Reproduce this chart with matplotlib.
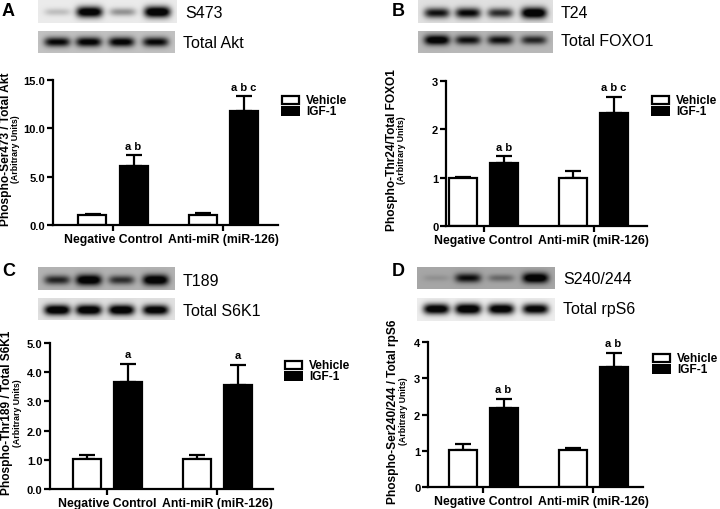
import numpy as np
import matplotlib
matplotlib.use('Agg')
import matplotlib.pyplot as plt
from matplotlib.patches import Rectangle

plt.rcParams['font.family'] = ['Liberation Sans', 'DejaVu Sans']

# --- data ---
groups = ['Negative Control', 'Anti-miR (miR-126)']
legend_labels = ['Vehicle', 'IGF-1']

akt_vehicle = [1.0, 1.05]
akt_vehicle_err = [0.12, 0.2]
akt_igf = [6.1, 11.8]
akt_igf_err = [1.1, 1.5]
akt_marks = ['a b', 'a b c']
akt_yticks = [0.0, 5.0, 10.0, 15.0]

foxo_vehicle = [1.0, 1.0]
foxo_vehicle_err = [0.02, 0.14]
foxo_igf = [1.31, 2.33]
foxo_igf_err = [0.13, 0.34]
foxo_marks = ['a b', 'a b c']
foxo_yticks = [0, 1, 2, 3]

s6k_vehicle = [1.03, 1.02]
s6k_vehicle_err = [0.15, 0.13]
s6k_igf = [3.67, 3.55]
s6k_igf_err = [0.62, 0.7]
s6k_marks = ['a', 'a']
s6k_yticks = [0.0, 1.0, 2.0, 3.0, 4.0, 5.0]

rps6_vehicle = [1.02, 1.01]
rps6_vehicle_err = [0.17, 0.06]
rps6_igf = [2.17, 3.32]
rps6_igf_err = [0.27, 0.37]
rps6_marks = ['a b', 'a b']
rps6_yticks = [0, 1, 2, 3, 4]

# blot band darkness per lane (0 = no band, 1 = saturated)
s473_bands = [0.15, 0.95, 0.3, 1.0]
akt_bands = [0.8, 0.85, 0.85, 0.8]
t24_bands = [0.75, 0.8, 0.65, 1.0]
foxo1_bands = [0.95, 0.75, 0.75, 0.65]
t189_bands = [0.65, 1.0, 0.6, 1.0]
s6k1_bands = [1.0, 1.0, 1.0, 0.95]
s240_bands = [0.1, 0.75, 0.3, 1.0]
rps6_bands = [0.95, 1.0, 0.95, 0.9]

W, H = 720, 510
fig = plt.figure(figsize=(W / 100, H / 100), dpi=100)


def px_axes(x0, y0, x1, y1):
    return fig.add_axes([x0 / W, 1 - y1 / H, (x1 - x0) / W, (y1 - y0) / H])


def fx(x):
    return x / W


def fy(y):
    return 1 - y / H


def blot(x0, y0, x1, y1, bg, bands, band_y, label):
    ax = px_axes(x0, y0, x1, y1)
    nx, ny = int(x1 - x0) * 2, int(y1 - y0) * 2
    xx, yy = np.meshgrid(np.linspace(0, 1, nx), np.linspace(0, 1, ny))
    cy = (band_y - y0) / (y1 - y0)
    dark = np.zeros_like(xx)
    for xc, b in zip([0.14, 0.37, 0.61, 0.86], bands):
        hh = 0.14 + 0.1 * b
        dark += 1.3 * b * np.exp(-((xx - xc) / 0.095) ** 4) * np.exp(-((yy - cy) / hh) ** 2)
    img = bg * (1 - 0.97 * np.clip(dark, 0, 1))
    ax.imshow(img, cmap='gray', vmin=0, vmax=1, aspect='auto', interpolation='bilinear')
    ax.axis('off')
    fig.text(fx(x1 + 8), fy(band_y), label, fontsize=11.5, ha='left', va='center')


def legend(x, y):
    fig.patches.append(Rectangle((fx(x), fy(y + 8)), 17 / W, 8 / H, transform=fig.transFigure,
                                 facecolor='white', edgecolor='black', linewidth=1.6))
    fig.patches.append(Rectangle((fx(x - 0.8), fy(y + 19.8)), 18.6 / W, 9.6 / H, transform=fig.transFigure,
                                 facecolor='black', edgecolor='none'))
    fig.text(fx(x + 24), fy(y + 4), legend_labels[0], fontsize=8.6, weight='bold', ha='left', va='center')
    fig.text(fx(x + 24), fy(y + 15), legend_labels[1], fontsize=8.6, weight='bold', ha='left', va='center')


def bar_panel(left, top, right, bottom, g1, veh, veh_err, igf, igf_err, marks, yticks, fmt,
              ylab, ylab_x, letter, letter_xy):
    ax = px_axes(left, top, right, bottom)
    x = np.array([1.0, 2.0])
    w = 28 / 110
    off = 20.5 / 110
    ax.errorbar(x - off, veh, yerr=[np.zeros(2), veh_err], fmt='none', ecolor='black',
                elinewidth=1.6, capsize=5.8, capthick=1.6, zorder=1)
    ax.errorbar(x + off, igf, yerr=[np.zeros(2), igf_err], fmt='none', ecolor='black',
                elinewidth=1.6, capsize=5.8, capthick=1.6, zorder=1)
    ax.bar(x - off, veh, width=w, color='white', edgecolor='black', linewidth=1.6, zorder=2)
    ax.bar(x + off, igf, width=w, color='black', edgecolor='black', linewidth=1.6, zorder=2)
    for xi, v, e, m in zip(x + off, igf, igf_err, marks):
        ax.annotate(m, (xi, v + e), xytext=(0, 3.5), textcoords='offset points', ha='center',
                    va='bottom', fontsize=8, weight='bold', annotation_clip=False)
    ax.set_xlim(1 + (left - g1) / 110, 1 + (right - g1) / 110)
    ax.set_ylim(yticks[0], yticks[-1])
    ax.set_yticks(yticks)
    ax.set_yticklabels([fmt.format(t) for t in yticks], fontsize=8, weight='bold')
    ax.set_xticks(x)
    ax.set_xticklabels(groups, fontsize=8.8, weight='bold')
    ax.tick_params(axis='both', length=4, width=1.6, direction='out', pad=1.5)
    for s in ['top', 'right']:
        ax.spines[s].set_visible(False)
    for s in ['left', 'bottom']:
        ax.spines[s].set_linewidth(1.6)
    ax.patch.set_alpha(0)
    yc = (top + bottom) / 2 - 4
    fig.text(fx(ylab_x), fy(yc), ylab, rotation=90, fontsize=8.6, weight='bold',
             ha='center', va='center')
    fig.text(fx(ylab_x + 10), fy(yc), '(Arbitrary Units)', rotation=90, fontsize=6.3,
             weight='bold', ha='center', va='center')
    fig.text(fx(letter_xy[0]), fy(letter_xy[1]), letter, fontsize=13, weight='bold',
             ha='left', va='center')
    return ax


# panel A
blot(38, 0, 177, 24, 0.92, s473_bands, 13, 'S473')
blot(38, 32, 175, 54, 0.76, akt_bands, 43, 'Total Akt')
bar_panel(53, 81, 278, 226, 113, akt_vehicle, akt_vehicle_err, akt_igf, akt_igf_err, akt_marks,
          akt_yticks, '{:.1f}', 'Phospho-Ser473 / Total Akt', 6, 'A', (2, 12))
legend(282, 97)

# panel B
blot(418, 0, 553, 24, 0.88, t24_bands, 14, 'T24')
blot(418, 32, 553, 54, 0.72, foxo1_bands, 41, 'Total FOXO1')
bar_panel(446, 82, 647, 227, 483.5, foxo_vehicle, foxo_vehicle_err, foxo_igf, foxo_igf_err, foxo_marks,
          foxo_yticks, '{:d}', 'Phospho-Thr24/Total FOXO1', 392, 'B', (392, 12))
legend(652, 97)

# panel C
blot(38, 268, 175, 291, 0.7, t189_bands, 281, 'T189')
blot(38, 299, 175, 321, 0.88, s6k1_bands, 311, 'Total S6K1')
bar_panel(50, 344, 273, 490, 107, s6k_vehicle, s6k_vehicle_err, s6k_igf, s6k_igf_err, s6k_marks,
          s6k_yticks, '{:.1f}', 'Phospho-Thr189 / Total S6K1', 7, 'C', (2, 271))
legend(285, 362)

# panel D
blot(417, 268, 555, 290, 0.65, s240_bands, 279, 'S240/244')
blot(417, 299, 555, 322, 0.93, rps6_bands, 310, 'Total rpS6')
bar_panel(428, 343, 643, 488, 483, rps6_vehicle, rps6_vehicle_err, rps6_igf, rps6_igf_err, rps6_marks,
          rps6_yticks, '{:d}', 'Phospho-Ser240/244 / Total rpS6', 393, 'D', (392, 272))
legend(653, 355)

fig.savefig('out.png', dpi=100)
